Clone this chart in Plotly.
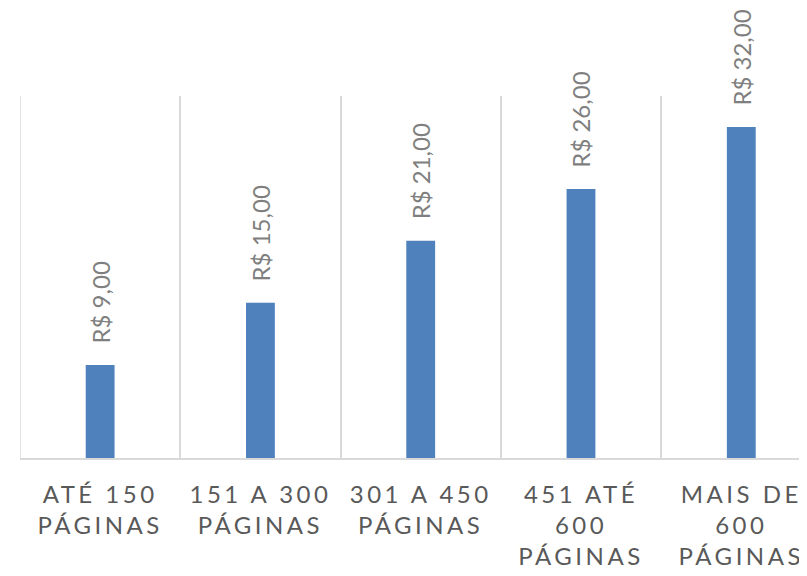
import plotly.graph_objects as go

categorias = [
    "ATÉ 150<br>PÁGINAS",
    "151 A 300<br>PÁGINAS",
    "301 A 450<br>PÁGINAS",
    "451 ATÉ<br>600<br>PÁGINAS",
    "MAIS DE<br>600<br>PÁGINAS",
]
precos = [9, 15, 21, 26, 32]
rotulos = ["R$ 9,00", "R$ 15,00", "R$ 21,00", "R$ 26,00", "R$ 32,00"]

# letter spacing like the Excel axis labels
esp = '<span style="letter-spacing:3.5px">'
tick_text = [esp + c.replace("<br>", "</span><br>" + esp) + "</span>" for c in categorias]

fig = go.Figure(go.Bar(
    x=categorias,
    y=precos,
    text=["\u00a0\u00a0\u00a0" + r for r in rotulos],  # gap above the bar
    textposition="outside",
    textangle=-90,
    constraintext="none",
    textfont=dict(family="Lato", size=24, color="#7f7f7f"),
    cliponaxis=False,
    marker=dict(color="#4f81bd", line=dict(width=0)),
))

# page body has an 8px margin, so the figure is shifted back by that much
fig.update_layout(
    width=807,
    height=568,
    margin=dict(l=12, r=8, t=88, b=118, autoexpand=False),
    paper_bgcolor="white",
    plot_bgcolor="white",
    bargap=0.82,
    showlegend=False,
    font=dict(family="Lato"),
)
fig.update_xaxes(
    type="category",
    range=[-0.5, 4.41],
    automargin=False,
    tickson="boundaries",
    showgrid=True,
    gridcolor="#d9d9d9",
    gridwidth=1.5,
    showline=True,
    linecolor="#d9d9d9",
    linewidth=1.5,
    ticks="",
    ticklabelstandoff=14,
    tickvals=categorias,
    ticktext=tick_text,
    tickfont=dict(family="Lato", size=24, color="#595959"),
)
fig.update_yaxes(range=[0, 35], visible=False, showgrid=False)

# left border line of the first category
fig.add_shape(type="line", xref="x", yref="y", x0=-0.5, x1=-0.5, y0=0, y1=35,
              line=dict(color="#d9d9d9", width=1.5))

fig.write_html("out.html")
